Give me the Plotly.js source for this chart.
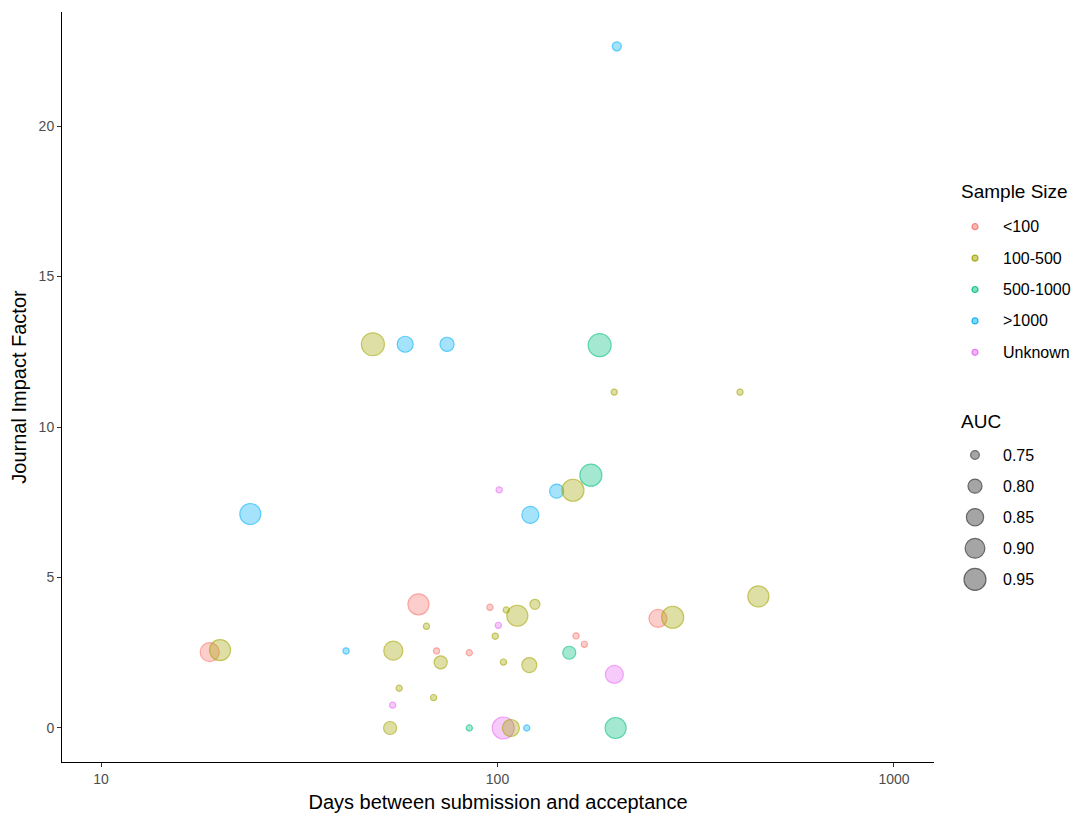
<!DOCTYPE html>
<html><head><meta charset="utf-8">
<script src="https://cdn.plot.ly/plotly-3.0.1.min.js"></script>
<style>html,body{margin:0;padding:0;background:#fff}#chart{width:1081px;height:818px}</style>
</head><body><div id="chart"></div>
<script>
// ---- data ----
const groups = ["<100", "100-500", "500-1000", ">1000", "Unknown"];
const groupColors = ["248,118,109", "163,165,0", "0,191,125", "0,176,246", "231,107,243"];

const daysLt100 = [18.8, 63.2, 70.2, 84.9, 95.7, 157.8, 165.6, 254];
const ifLt100   = [2.52, 4.11, 2.56, 2.50, 4.01, 3.06, 2.78, 3.64];
const aucLt100  = [0.883, 0.927, 0.741, 0.741, 0.741, 0.741, 0.741, 0.863];

const days100to500 = [48.5, 197, 409, 155, 19.96, 66.2, 54.6, 71.9, 105.2, 112.2, 124.3, 98.7, 103.5, 120.3, 56.5, 69.0, 53.6, 108.1, 276.6, 455];
const if100to500   = [12.75, 11.16, 11.16, 7.9, 2.59, 3.38, 2.57, 2.18, 3.92, 3.73, 4.11, 3.05, 2.19, 2.09, 1.32, 1.01, 0, 0, 3.68, 4.37];
const auc100to500  = [0.975, 0.741, 0.741, 0.951, 0.927, 0.741, 0.883, 0.787, 0.741, 0.927, 0.758, 0.741, 0.741, 0.813, 0.741, 0.741, 0.787, 0.845, 0.951, 0.927];

const days500to1000 = [181, 172, 151.7, 84.9, 198.6];
const if500to1000   = [12.72, 8.4, 2.5, 0, 0];
const auc500to1000  = [0.975, 0.951, 0.787, 0.741, 0.927];

const daysGt1000 = [200, 58.5, 74.6, 141, 121, 23.8, 41.5, 118.5];
const ifGt1000   = [22.65, 12.75, 12.75, 7.87, 7.08, 7.11, 2.56, 0];
const aucGt1000  = [0.752, 0.828, 0.80, 0.80, 0.845, 0.927, 0.741, 0.741];

const daysUnknown = [101, 100.5, 54.4, 197.1, 103.4];
const ifUnknown   = [7.91, 3.41, 0.76, 1.78, 0];
const aucUnknown  = [0.741, 0.741, 0.741, 0.863, 0.951];

const aucLegendValues = [0.75, 0.80, 0.85, 0.90, 0.95];
const xTickVals = [10, 100, 1000];
const yTickVals = [0, 5, 10, 15, 20];

// ---- size scale (area-like, ggplot style) ----
function aucToPx(a) { return 5 + 37 * Math.sqrt(Math.max(0, a - 0.74)); }

const series = [
  {g: 3, x: daysGt1000, y: ifGt1000, a: aucGt1000},
  {g: 4, x: daysUnknown, y: ifUnknown, a: aucUnknown},
  {g: 0, x: daysLt100, y: ifLt100, a: aucLt100},
  {g: 2, x: days500to1000, y: if500to1000, a: auc500to1000},
  {g: 1, x: days100to500, y: if100to500, a: auc100to500}
];

const traces = series.map(s => ({
  type: 'scatter', mode: 'markers', name: groups[s.g], showlegend: false,
  x: s.x, y: s.y, xaxis: 'x', yaxis: 'y',
  marker: {
    size: s.a.map(aucToPx),
    color: 'rgba(' + groupColors[s.g] + ',0.5)',
    line: {color: 'rgba(' + groupColors[s.g] + ',0.9)', width: 1.2}
  },
  hoverinfo: 'x+y+name'
}));

// ---- manual legends on an auxiliary axis (pixel-like coords) ----
const legKeyX = 975, legTextX = 1001, legTitleX = 959;
const ssTitleY = 191.5, ssFirstY = 226.7, ssStep = 31.4;
const aucTitleY = 421.7, aucFirstY = 455, aucStep = 31.1;

traces.push({
  type: 'scatter', mode: 'markers', showlegend: false, hoverinfo: 'skip',
  xaxis: 'x2', yaxis: 'y2',
  x: groups.map(() => legKeyX),
  y: groups.map((_, i) => ssFirstY + i * ssStep),
  marker: {
    size: 6,
    color: groupColors.map(c => 'rgba(' + c + ',0.5)'),
    line: {color: groupColors.map(c => 'rgba(' + c + ',0.9)'), width: 1.2}
  }
});
traces.push({
  type: 'scatter', mode: 'markers', showlegend: false, hoverinfo: 'skip',
  xaxis: 'x2', yaxis: 'y2',
  x: aucLegendValues.map(() => legKeyX),
  y: aucLegendValues.map((_, i) => aucFirstY + i * aucStep),
  marker: {
    size: aucLegendValues.map(aucToPx),
    color: 'rgba(0,0,0,0.5)',
    line: {color: 'rgba(0,0,0,0.8)', width: 1.2}
  }
});

const FONT = 'Liberation Sans, Arial, sans-serif';
const annotations = [];
annotations.push({xref: 'x2', yref: 'y2', x: legTitleX, y: ssTitleY, text: 'Sample Size', showarrow: false,
  xanchor: 'left', yanchor: 'middle', font: {family: FONT, size: 19, color: '#000'}});
groups.forEach((g, i) => annotations.push({xref: 'x2', yref: 'y2', x: legTextX, y: ssFirstY + i * ssStep,
  text: g.replace('<', '&lt;').replace('>', '&gt;'), showarrow: false, xanchor: 'left', yanchor: 'middle',
  font: {family: FONT, size: 16, color: '#000'}}));
annotations.push({xref: 'x2', yref: 'y2', x: legTitleX, y: aucTitleY, text: 'AUC', showarrow: false,
  xanchor: 'left', yanchor: 'middle', font: {family: FONT, size: 19, color: '#000'}});
aucLegendValues.forEach((v, i) => annotations.push({xref: 'x2', yref: 'y2', x: legTextX, y: aucFirstY + i * aucStep,
  text: v.toFixed(2), showarrow: false, xanchor: 'left', yanchor: 'middle',
  font: {family: FONT, size: 16, color: '#000'}}));

const plotFrac = 872 / 1019;
const layout = {
  width: 1081, height: 818,
  margin: {l: 62, r: 0, t: 12, b: 56},
  paper_bgcolor: '#fff', plot_bgcolor: '#fff',
  font: {family: FONT, color: '#000'},
  showlegend: false,
  xaxis: {
    type: 'log', domain: [0, plotFrac], range: [0.9016, 3.101],
    tickvals: xTickVals, ticktext: xTickVals.map(String),
    showline: true, linecolor: '#000', linewidth: 1, mirror: false,
    ticks: 'outside', ticklen: 4, tickcolor: '#333', tickwidth: 1,
    showgrid: false, zeroline: false,
    tickfont: {family: FONT, size: 14, color: '#4D4D4D'},
    title: {text: 'Days between submission and acceptance', font: {family: FONT, size: 20, color: '#000'}, standoff: 9}
  },
  yaxis: {
    range: [-1.13, 23.79], tickvals: yTickVals, ticktext: yTickVals.map(String),
    showline: true, linecolor: '#000', linewidth: 1,
    ticks: 'outside', ticklen: 4, tickcolor: '#333', tickwidth: 1,
    showgrid: false, zeroline: false,
    tickfont: {family: FONT, size: 14, color: '#4D4D4D'},
    title: {text: 'Journal Impact Factor', font: {family: FONT, size: 20, color: '#000'}, standoff: 6}
  },
  xaxis2: {domain: [plotFrac, 1], range: [934, 1081], anchor: 'y2', visible: false, fixedrange: true},
  yaxis2: {domain: [0, 1], range: [762, 12], anchor: 'x2', visible: false, fixedrange: true},
  annotations: annotations
};

Plotly.newPlot('chart', traces, layout, {displayModeBar: false, staticPlot: true});
</script>
</body></html>
